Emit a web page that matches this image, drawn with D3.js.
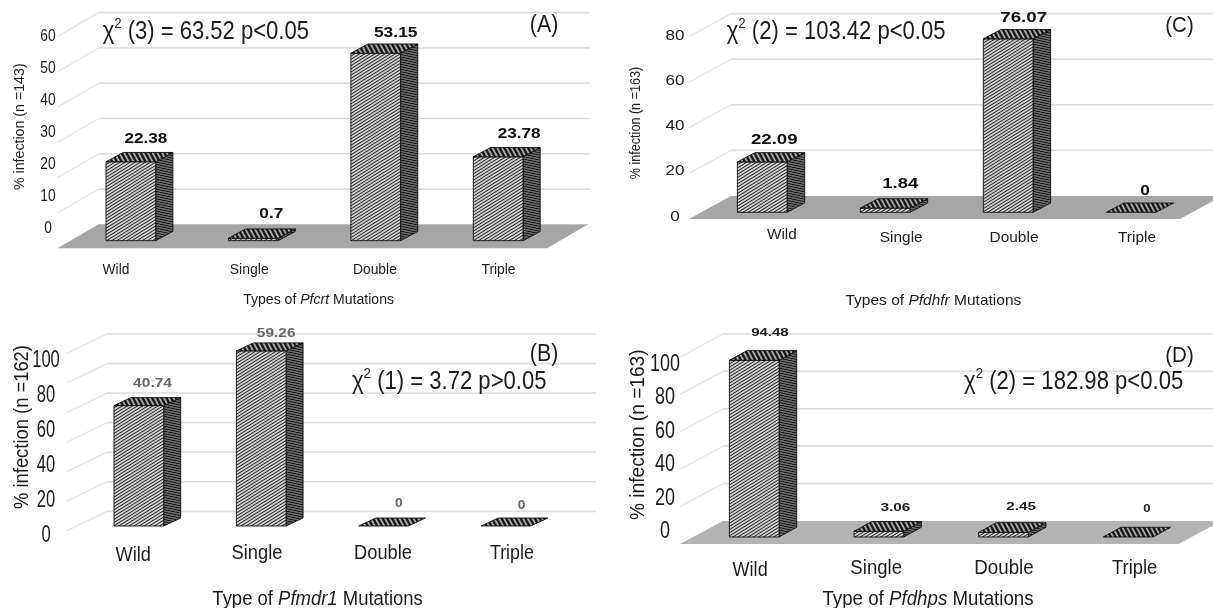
<!DOCTYPE html>
<html><head><meta charset="utf-8">
<script src="https://cdnjs.cloudflare.com/ajax/libs/d3/7.8.5/d3.min.js"></script>
<style>html,body{margin:0;padding:0;background:#fff}svg{display:block;filter:blur(0.45px)}text{font-family:"Liberation Sans",Arial,sans-serif;fill:#1c1c1c}</style>
</head><body><svg id="c" width="1213" height="608"></svg>
<script>
const categories = ["Wild","Single","Double","Triple"];
const valuesA = [22.38,0.7,53.15,23.78];
const valuesB = [40.74,59.26,0,0];
const valuesC = [22.09,1.84,76.07,0];
const valuesD = [94.48,3.06,2.45,0];
const ticksA = [0,10,20,30,40,50,60];
const ticksB = [0,20,40,60,80,100];
const ticksC = [0,20,40,60,80];
const ticksD = [0,20,40,60,80,100];
const gridB = [0,10,20,30,40,50,60];

const panels = [
 {id:"A",values:valuesA,ticks:ticksA,grid:ticksA,dom:60,barX:[106,523],base:240.7,gridBase:224.3,unit:3.527,depth:[17.2,9.3],
  backX:98.7,frontX:57.4,rightX:590,floorFront:248.3,floorRight:547,floor:"#a6a6a6",
  tickC:48,tickY:[227,35],tickSize:17,digitW:7.65,
  stat:["(3) = 63.52 p<0.05",102.6,309,39.3],tag:[544,32],
  catC:[116,249.2,374.9,498.5],catW:[26.8,39,44,34],catY:[274,274,274,274],catSize:15,
  xt:["Types of ","Pfcrt"," Mutations",318.6,151,304.3,15],yt:["% infection (n =143)",24,126.7,126.7,14],
  lx:[15,18,20,21],ly:[-19,-20.5,-16.5,-19],lw:[43,24,43.7,43],lsize:15,lcol:"#111"},
 {id:"B",values:valuesB,ticks:ticksB,grid:gridB,dom:60,barX:[114,530.8],base:526,gridBase:511.3,unit:2.955,depth:[17,8],
  backX:107,frontX:67,rightX:596,floorFront:530.7,floorRight:null,floor:null,
  tickC:46,tickY:[534,358.3],tickSize:23,digitW:9.2,
  stat:["(1) = 3.72 p>0.05",352,546.5,389.3],tag:[544,360.7],
  catC:[133.3,257,383,511.9],catW:[35.4,50.9,58,44],catY:[560.7,559.3,559.3,559.3],catSize:21,
  xt:["Type of ","Pfmdr1"," Mutations",317.6,210.5,605,20],yt:["% infection (n =162)",27.5,427,164,21],
  lx:[13.7,15,15.2,15.7],ly:[-18.3,-13.6,-18.7,-17],lw:[39,38.8,7.7,7.7],lsize:12,lcol:"#666"},
 {id:"C",values:valuesC,ticks:ticksC,grid:ticksC,dom:80,barX:[737.4,1156],base:212.3,gridBase:196,unit:2.28,depth:[17.6,9.3],
  backX:731,frontX:689,rightX:1213,floorFront:219,floorRight:1180,floor:"#a6a6a6",
  tickC:675,tickY:[215.3,34.3],tickSize:14.5,digitW:9.5,
  stat:["(2) = 103.42 p<0.05",726.7,945.6,39.3],tag:[1179.5,32],
  catC:[781.9,901.2,1014,1137],catW:[29.8,42.9,49,38],catY:[239.3,242.3,242.3,242.3],catSize:14,
  xt:["Types of ","Pfdhfr"," Mutations",933.4,176,305.3,14],yt:["% infection (n =163)",640,123,112.6,14],
  lx:[12,15,15.5,14],ly:[-18,-20,-17,-17],lw:[46.7,36,47,9.6],lsize:15,lcol:"#111"},
 {id:"D",values:valuesD,ticks:ticksD,grid:ticksD,dom:100,barX:[729.4,1153],base:537,gridBase:521,unit:1.87,depth:[17.6,9.7],
  backX:723,frontX:680,rightX:1213,floorFront:544,floorRight:1178.3,floor:"#b3b3b3",
  tickC:665,tickY:[530,362.3],tickSize:23,digitW:10,
  stat:["(2) = 182.98 p<0.05",964,1183.3,389.3],tag:[1179.5,361.7],
  catC:[750.1,876.2,1004,1134.7],catW:[35.2,51.7,59.4,45.3],catY:[576,574,574,574],catSize:21,
  xt:["Type of ","Pfdhps"," Mutations",928,211.3,605,20],yt:["% infection (n =163)",643.7,434.7,170.7,21],
  lx:[15.6,16.5,17.6,18.7],ly:[-24.3,-20.3,-22,-25.3],lw:[37.4,30,29.8,7.3],lsize:11.5,lcol:"#222"}
];

const svg = d3.select("#c");
const defs = svg.append("defs");
function hatch(id,period,sw,angle,bg,fg){
  const p = defs.append("pattern").attr("id",id).attr("patternUnits","userSpaceOnUse")
    .attr("width",period).attr("height",period).attr("patternTransform",`rotate(${angle})`);
  p.append("rect").attr("width",period).attr("height",period).attr("fill",bg);
  p.append("line").attr("x1",0).attr("x2",period).attr("y1",period/2).attr("y2",period/2)
    .attr("stroke",fg).attr("stroke-width",sw);
}
hatch("front",2.7,1.2,-32,"#f2f2f2","#222");
hatch("side",2.4,1.5,12,"#aaa","#111");
hatch("top",4.2,2.3,62,"#aaa","#111");

function fit(t,cx,y,w,rot){
  const len = t.node().getComputedTextLength() || 1;
  const s = w/len;
  t.attr("text-anchor","middle").attr("transform",`translate(${cx},${y})${rot?" rotate(-90)":""} scale(${s},1)`);
  return t;
}

panels.forEach(p=>{
  const g = svg.append("g");
  const y = d3.scaleLinear().domain([0,p.dom]).range([p.base,p.base-p.unit*p.dom]);
  const x = d3.scaleBand().domain(categories).range(p.barX).paddingInner(1-49.7/((p.barX[1]-p.barX[0]-49.7)/3));
  const off = p.base-p.gridBase;
  const slantY = p.floorFront-p.gridBase;

  // gridlines on back wall and left wall
  p.grid.forEach(v=>{
    const gy = y(v)-off;
    if(!(v===0 && p.floor)) g.append("line").attr("x1",p.backX).attr("x2",p.rightX).attr("y1",gy).attr("y2",gy).attr("stroke","#dedede").attr("stroke-width",1.7);
    if(!(v===0 && p.floor)) g.append("line").attr("x1",p.frontX).attr("x2",p.backX).attr("y1",gy+slantY).attr("y2",gy).attr("stroke","#e2e2e2").attr("stroke-width",1.3);
  });
  // floor
  if(p.floor){
    const by = y(0)-off;
    g.append("polygon").attr("fill",p.floor).attr("points",[
      [p.frontX,p.floorFront],[p.floorRight,p.floorFront],[p.floorRight+(p.backX-p.frontX),by],[p.backX,by]].join(" "));
  }
  // bars
  const [dx,dy] = p.depth;
  categories.forEach((c,i)=>{
    const v = p.values[i], x0=x(c), x1=x0+x.bandwidth(), yt=y(v), yb=y(0);
    const bar = g.append("g").attr("stroke","#111").attr("stroke-width",0.9).attr("stroke-linejoin","round");
    if(v>0){
      bar.append("polygon").attr("fill","url(#side)").attr("points",[[x1,yt],[x1+dx,yt-dy],[x1+dx,yb-dy],[x1,yb]].join(" "));
      bar.append("rect").attr("x",x0).attr("y",yt).attr("width",x.bandwidth()).attr("height",yb-yt).attr("fill","url(#front)");
    }
    bar.append("polygon").attr("fill","url(#top)").attr("points",[[x0,yt],[x1,yt],[x1+dx,yt-dy],[x0+dx,yt-dy]].join(" "));
    // value label
    const t = g.append("text").text(String(v)).attr("font-size",p.lsize).attr("font-weight","bold").style("fill",p.lcol);
    fit(t,x0+x.bandwidth()/2+p.lx[i],yt+p.ly[i],p.lw[i]);
    // category
    const ct = g.append("text").text(c).attr("font-size",p.catSize);
    fit(ct,p.catC[i],p.catY[i],p.catW[i]);
  });
  // tick labels
  const ly = d3.scaleLinear().domain(d3.extent(p.ticks)).range(p.tickY);
  p.ticks.forEach(v=>{
    const s=String(v);
    const t=g.append("text").text(s).attr("font-size",p.tickSize);
    fit(t,p.tickC,ly(v)+p.tickSize*0.36,p.digitW*s.length);
  });
  // statistic
  const st = g.append("text").attr("font-size",25);
  st.append("tspan").text("χ");
  st.append("tspan").text("2").attr("font-size",15).attr("dy",-11);
  st.append("tspan").text(" "+p.stat[0]).attr("dy",11);
  fit(st,(p.stat[1]+p.stat[2])/2,p.stat[3],p.stat[2]-p.stat[1]);
  // panel tag
  const tg = g.append("text").text(`(${p.id})`).attr("font-size",23);
  fit(tg,p.tag[0],p.tag[1],28.5);
  // axis titles
  const xt = g.append("text").attr("font-size",p.xt[6]);
  xt.append("tspan").text(p.xt[0]);
  xt.append("tspan").text(p.xt[1]).attr("font-style","italic");
  xt.append("tspan").text(p.xt[2]);
  fit(xt,p.xt[3],p.xt[5],p.xt[4]);
  const yt = g.append("text").text(p.yt[0]).attr("font-size",p.yt[4]);
  fit(yt,p.yt[1],p.yt[2],p.yt[3],true);
});
</script></body></html>
